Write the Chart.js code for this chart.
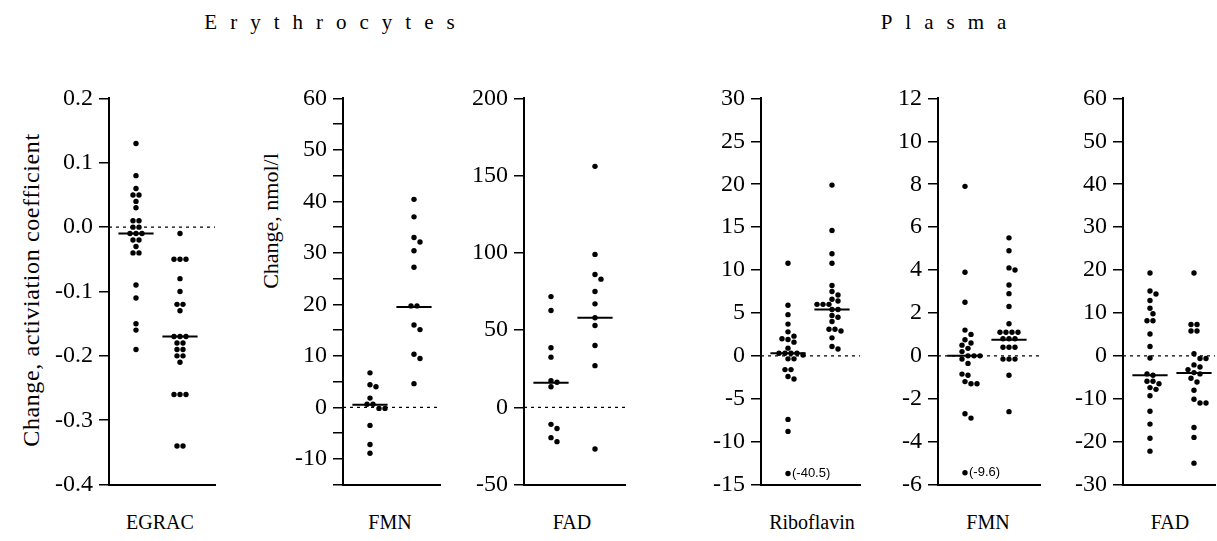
<!DOCTYPE html>
<html>
<head>
<meta charset="utf-8">
<script src="https://cdn.jsdelivr.net/npm/chart.js@4.4.1/dist/chart.umd.min.js"></script>
<style>
body{margin:0;background:#fff;width:1217px;height:541px;position:relative;overflow:hidden;font-family:"Liberation Serif",serif;color:#000}
canvas{position:absolute}
.t{position:absolute;transform:translate(-50%,-50%);white-space:nowrap;font-size:20px}
.r{transform:translate(-50%,-50%) rotate(-90deg);font-size:22px}
</style>
</head>
<body>
<div class="t" style="left:336px;top:22px;letter-spacing:13px;font-size:21px">Erythrocytes</div>
<div class="t" style="left:950px;top:22px;letter-spacing:13px;font-size:21px">Plasma</div>
<div class="t r" style="left:31px;top:290px;font-size:24px;letter-spacing:0.6px">Change, activiation coefficient</div>
<div class="t r" style="left:271px;top:221px">Change, nmol/l</div>
<div class="t" style="left:160px;top:522px">EGRAC</div>
<div class="t" style="left:390px;top:522px">FMN</div>
<div class="t" style="left:572px;top:522px">FAD</div>
<div class="t" style="left:812px;top:522px">Riboflavin</div>
<div class="t" style="left:988px;top:522px">FMN</div>
<div class="t" style="left:1170px;top:522px">FAD</div>

<script>
// erythrocytes, EGRAC
let egracG1=[0.13,0.08,0.06,0.05,0.05,0.04,0.03,0.01,0.01,0.00,0.00,-0.01,-0.01,-0.01,-0.02,-0.02,-0.03,-0.04,-0.04,-0.09,-0.11,-0.15,-0.16,-0.19]
let egracG2=[-0.01,-0.05,-0.05,-0.05,-0.08,-0.10,-0.12,-0.12,-0.13,-0.17,-0.17,-0.17,-0.18,-0.18,-0.19,-0.19,-0.20,-0.20,-0.21,-0.26,-0.26,-0.26,-0.34,-0.34]
let egracMed=[-0.01,-0.17]
let egracTicks=[-0.4,-0.3,-0.2,-0.1,0,0.1,0.2]
let egracLabels=[-0.4,-0.3,-0.2,-0.1,0,0.1,0.2]

// erythrocytes, FMN
let eFmnG1=[6.7,4.4,4.0,1.8,0.6,0.6,-0.2,-0.2,-3.5,-7.2,-8.9]
let eFmnG2=[40.4,37.0,33.0,32.1,30.4,27.2,19.7,19.7,16.0,15.1,10.3,9.5,4.6]
let eFmnMed=[0.5,19.5]
let eFmnTicks=[-15,-10,-5,0,5,10,15,20,25,30,35,40,45,50,55,60]
let eFmnLabels=[-10,0,10,20,30,40,50,60]

// erythrocytes, FAD
let eFadG1=[71.7,62.7,38.6,32.5,17.3,16.3,13.3,-11,-13.7,-19.6,-22.2]
let eFadG2=[156,99,86,83,75,67,58,53,40,27,-27]
let eFadMed=[16,58]
let eFadTicks=[-50,0,50,100,150,200]
let eFadLabels=[-50,0,50,100,150,200]

// plasma, riboflavin
let riboG1=[10.8,5.9,4.8,3.7,2.8,2.3,2.0,1.9,1.6,0.9,0.3,0.3,0.3,0.3,0.1,-0.35,-0.35,-1.6,-1.6,-2.4,-2.7,-7.4,-8.8,-13.7]
let riboG2=[19.9,14.6,11.9,10.8,8.2,7.5,7.1,6.6,6.4,6.0,6.0,6.0,5.4,5.4,4.7,4.5,4.0,3.1,3.1,2.9,2.1,1.1,0.8]
let riboMed=[0.3,5.4]
let riboTicks=[-15,-10,-5,0,5,10,15,20,25,30]
let riboLabels=[-15,-10,-5,0,5,10,15,20,25,30]
let riboOut=[{group:1,value:-13.7,text:'(-40.5)'}]

// plasma, FMN
let pFmnG1=[7.9,3.9,2.5,1.2,1.0,0.75,0.6,0.5,0.35,0.2,0,0,0,-0.15,-0.35,-0.85,-0.9,-1.2,-1.3,-1.3,-2.7,-2.9,-5.45]
let pFmnG2=[5.5,4.9,4.1,4.0,3.3,2.9,2.3,1.5,1.1,1.1,1.1,1.1,0.8,0.8,0.8,0.4,0.4,0.4,-0.15,-0.15,-0.15,-0.9,-2.6]
let pFmnMed=[0,0.75]
let pFmnTicks=[-6,-4,-2,0,2,4,6,8,10,12]
let pFmnLabels=[-6,-4,-2,0,2,4,6,8,10,12]
let pFmnOut=[{group:1,value:-5.45,text:'(-9.6)'}]

// plasma, FAD
let pFadG1=[19.3,15.1,14.4,12.9,11.1,9.8,8.2,8.2,5.1,2.2,-0.5,-4.2,-4.5,-5.9,-5.9,-6.5,-7.4,-7.8,-9.3,-12.9,-15.9,-19.2,-22.2]
let pFadG2=[19.3,7.3,7.3,5.8,5.8,0.5,-0.6,-0.6,-2.1,-2.6,-3.2,-3.9,-4.2,-5.2,-6.1,-8.0,-10.1,-11,-11,-16.7,-19,-25]
let pFadMed=[-4.5,-4]
let pFadTicks=[-30,-20,-10,0,10,20,30,40,50,60]
let pFadLabels=[-30,-20,-10,0,10,20,30,40,50,60]

const AXW=90, PAD=16, TOP=94, BOTTOM=489, PXU=44
Chart.defaults.font.family="'Liberation Serif', 'Times New Roman', serif"
Chart.defaults.font.size=24
Chart.defaults.color='#000'

let panels=[
  {g:[egracG1,egracG2],med:egracMed,ticks:egracTicks,labels:egracLabels,dec:1,axisX:109,w:106,out:[]},
  {g:[eFmnG1,eFmnG2],med:eFmnMed,ticks:eFmnTicks,labels:eFmnLabels,dec:0,axisX:343,w:97,out:[]},
  {g:[eFadG1,eFadG2],med:eFadMed,ticks:eFadTicks,labels:eFadLabels,dec:0,axisX:524,w:101,out:[]},
  {g:[riboG1,riboG2],med:riboMed,ticks:riboTicks,labels:riboLabels,dec:0,axisX:761,w:99,out:riboOut},
  {g:[pFmnG1,pFmnG2],med:pFmnMed,ticks:pFmnTicks,labels:pFmnLabels,dec:0,axisX:938,w:102,out:pFmnOut},
  {g:[pFadG1,pFadG2],med:pFadMed,ticks:pFadTicks,labels:pFadLabels,dec:0,axisX:1123,w:92,out:[]}
]

// little plugin for the off-scale value labels
let outLabels={
  id:'outLabels',
  afterDatasetsDraw(chart,args,opts){
    let ctx=chart.ctx
    ctx.save()
    ctx.fillStyle='#000'
    ctx.font='13px "Liberation Sans", Arial, sans-serif'
    ctx.textBaseline='middle'
    for(let o of opts.items||[]){
      let x=chart.scales.x.getPixelForValue(o.group)+4
      let y=chart.scales.y.getPixelForValue(o.value)
      ctx.fillText(o.text,x,y)
    }
    ctx.restore()
  }
}

// place dots side by side like the original dot plot
function swarm(chart,values,gx){
  let xs=chart.scales.x, ys=chart.scales.y
  let cx=xs.getPixelForValue(gx)
  let pts=values.map((v,i)=>({v:v,i:i,py:ys.getPixelForValue(v)})).sort((a,b)=>a.py-b.py)
  let rows=[]
  pts.forEach(p=>{
    let last=rows[rows.length-1]
    if(last && p.py-last[0].py<1.5) last.push(p)
    else rows.push([p])
  })
  let D=5.8, SP=6
  let placed=[]
  let out=new Array(values.length)
  rows.forEach(row=>{
    let n=row.length
    for(let k=0;k<60;k++){
      let s=k==0?0:(k%2?1:-1)*Math.ceil(k/2)*SP/2
      let xsPix=row.map((p,j)=>cx+s+(j-(n-1)/2)*SP)
      let ok=true
      for(let j=0;j<n && ok;j++){
        for(let q of placed){
          let dx=xsPix[j]-q.x, dy=row[j].py-q.y
          if(dx*dx+dy*dy<D*D){ok=false;break}
        }
      }
      if(ok){
        row.forEach((p,j)=>{
          placed.push({x:xsPix[j],y:p.py})
          out[p.i]={x:xs.getValueForPixel(xsPix[j]),y:p.v}
        })
        break
      }
    }
  })
  return out
}

panels.forEach((p,idx)=>{
  let c=document.createElement('canvas')
  let cw=AXW+p.w+6, ch=BOTTOM-TOP+2*PAD
  c.width=cw; c.height=ch
  c.style.left=(p.axisX-AXW)+'px'
  c.style.top=(TOP-PAD)+'px'
  c.style.width=cw+'px'; c.style.height=ch+'px'
  document.body.append(c)

  let xmin=1-27/PXU, xmax=xmin+p.w/PXU
  let ymin=p.ticks[0], ymax=p.ticks[p.ticks.length-1]
  let lineDs=(pts,w,dash)=>({type:'line',data:pts,borderColor:'#000',borderWidth:w,borderDash:dash||[],pointRadius:0,fill:false,showLine:true})
  let dotDs=vals=>({type:'scatter',data:vals.map(v=>({x:0,y:v})),backgroundColor:'#000',borderWidth:0,pointRadius:2.7,pointHoverRadius:2.7})

  let chart=new Chart(c.getContext('2d'),{
    type:'scatter',
    data:{datasets:[
      lineDs([{x:xmin,y:0},{x:xmax,y:0}],1.2,[3,4]),
      dotDs(p.g[0]),
      dotDs(p.g[1]),
      lineDs([{x:0.6,y:p.med[0]},{x:1.4,y:p.med[0]}],2),
      lineDs([{x:1.6,y:p.med[1]},{x:2.4,y:p.med[1]}],2)
    ]},
    options:{
      responsive:false,
      animation:false,
      devicePixelRatio:1,
      layout:{padding:{top:PAD,bottom:PAD,left:0,right:6}},
      plugins:{legend:{display:false},tooltip:{enabled:false},outLabels:{items:p.out}},
      scales:{
        x:{type:'linear',min:xmin,max:xmax,
          ticks:{display:false},
          grid:{display:false},
          border:{display:true,color:'#000',width:2},
          afterFit:s=>{s.height=0}},
        y:{type:'linear',min:ymin,max:ymax,
          afterBuildTicks:s=>{s.ticks=p.ticks.map(v=>({value:v}))},
          afterFit:s=>{s.width=AXW},
          ticks:{color:'#000',padding:6,autoSkip:false,
            font:{family:"'Liberation Serif', 'Times New Roman', serif",size:24},
            callback:v=>{
              let hit=p.labels.some(l=>Math.abs(l-v)<1e-9)
              return hit ? Number(v).toFixed(p.dec) : ''
            }},
          grid:{drawOnChartArea:false,drawTicks:true,tickLength:10,color:'#000',lineWidth:1.5},
          border:{display:true,color:'#000',width:2}}
      }
    },
    plugins:[outLabels]
  })

  chart.data.datasets[1].data=swarm(chart,p.g[0],1)
  chart.data.datasets[2].data=swarm(chart,p.g[1],2)
  chart.update('none')
})
</script>
</body>
</html>
